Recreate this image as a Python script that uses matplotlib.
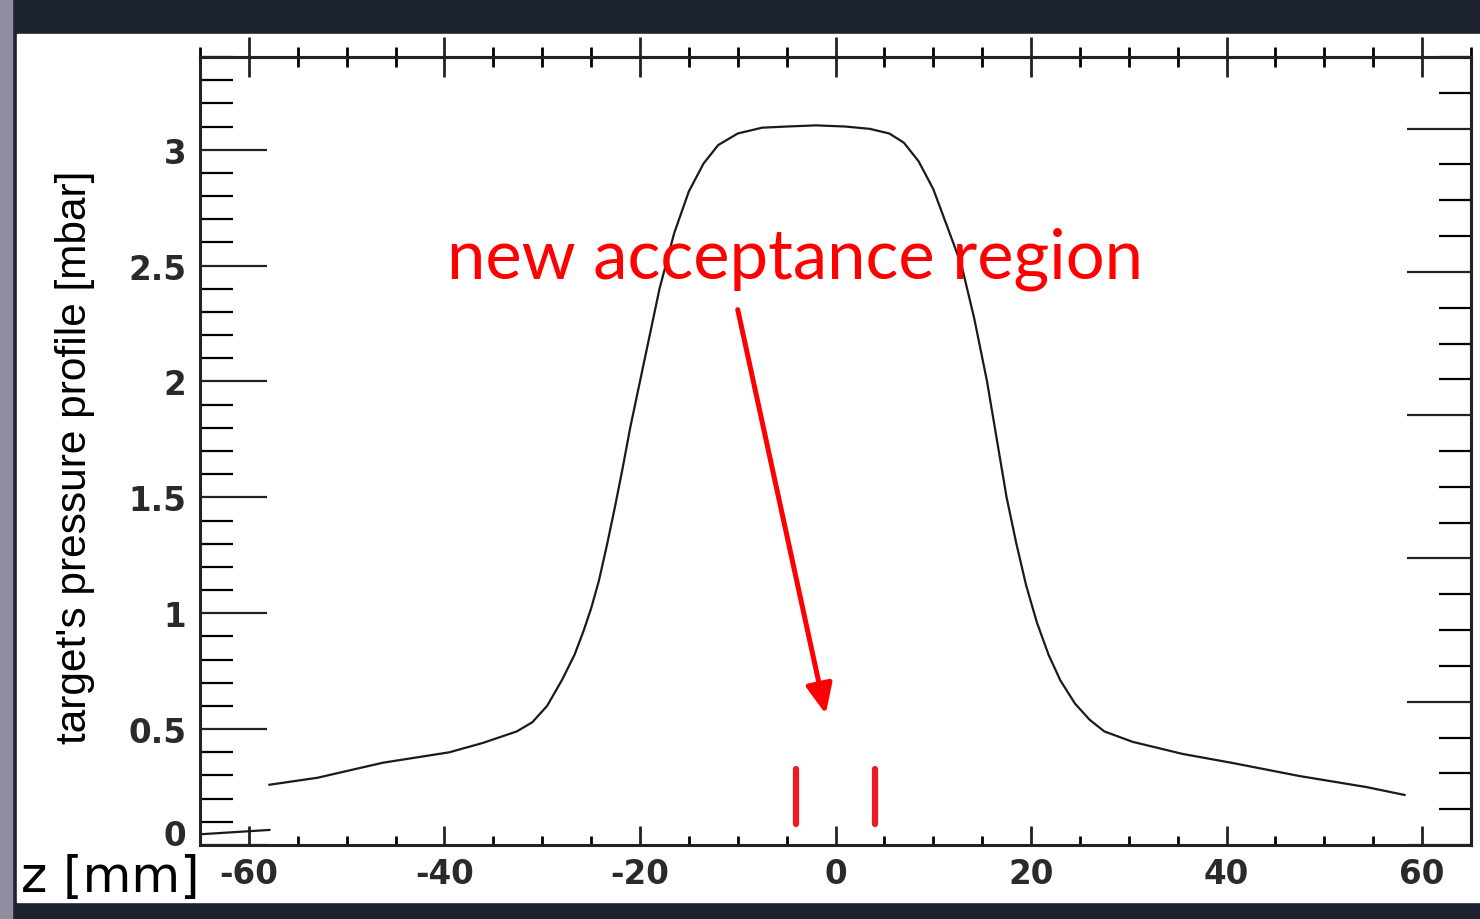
import numpy as np
import matplotlib.pyplot as plt
from matplotlib import font_manager
from matplotlib.patches import Rectangle
from matplotlib.ticker import MultipleLocator, FixedLocator, FuncFormatter

plt.rcParams['axes.unicode_minus'] = False

# pressure profile
z_mm = [-57.9, -53.0, -46.3, -39.5, -36.1, -32.6, -31.0, -29.5, -28.0, -26.7,
        -25.8, -25.0, -24.2, -23.4, -22.6, -21.8, -21.0, -20.0, -19.0, -18.0,
        -16.5, -15.0, -13.5, -12.0, -10.0, -7.5, -5.0, -2.0, 1.0, 3.5,
        5.5, 7.0, 8.5, 10.0, 11.5, 12.9, 14.2, 15.5, 16.5, 17.5,
        18.5, 19.5, 20.6, 21.8, 23.0, 24.5, 26.0, 27.5, 30.4, 35.5,
        40.6, 47.4, 54.3, 58.2]
p_mbar = [0.26, 0.29, 0.355, 0.40, 0.44, 0.49, 0.53, 0.60, 0.71, 0.82,
          0.92, 1.02, 1.14, 1.29, 1.45, 1.62, 1.80, 2.00, 2.20, 2.40,
          2.64, 2.82, 2.94, 3.02, 3.07, 3.095, 3.10, 3.105, 3.10, 3.09,
          3.07, 3.03, 2.95, 2.83, 2.66, 2.50, 2.27, 2.00, 1.75, 1.50,
          1.30, 1.12, 0.96, 0.82, 0.71, 0.61, 0.54, 0.49, 0.445, 0.393,
          0.354, 0.298, 0.25, 0.216]
# short stray segment at lower left
stub_z = [-64.7, -57.9]
stub_p = [0.047, 0.065]

# acceptance region edges and annotation
accept_z = [-4.0, 4.0]
accept_p = [0.09, 0.33]
label = "new acceptance region"
arrow_from = (-10.0, 2.31)
arrow_to = (-1.0, 0.565)

x_ticks = [-60, -40, -20, 0, 20, 40, 60]
y_ticks = [0, 0.5, 1, 1.5, 2, 2.5, 3]

fig = plt.figure(figsize=(14.8, 9.2), dpi=100, facecolor='#1d2231')
fig.patches.append(Rectangle((0, 0), 12 / 1480, 1, transform=fig.transFigure,
                             color='#8e8c9e', zorder=-10))
fig.patches.append(Rectangle((17 / 1480, 17 / 920), 1 - 17 / 1480, (903 - 35) / 920,
                             transform=fig.transFigure, color='white', zorder=-10))

ax = fig.add_axes([200 / 1480, 74 / 920, 1271 / 1480, 788 / 920])
ax.set_zorder(1)
ax.patch.set_alpha(0)
ax.set_xlim(-65, 65)
ax.set_ylim(0, 3.4)

ax.plot(z_mm, p_mbar, color='#1a1a1a', lw=1.6)
ax.plot(stub_z, stub_p, color='#1a1a1a', lw=1.6)
for z in accept_z:
    ax.plot([z, z], accept_p, color='#ed1c24', lw=4.5, solid_capstyle='round')

ax.text(-39.7, 2.45, label, color='red', fontsize=49.5, family=['Lato', 'DejaVu Sans'],
        ha='left', va='baseline')
ax.annotate('', xy=arrow_to, xytext=arrow_from,
            arrowprops=dict(arrowstyle='-|>,head_length=0.45,head_width=0.2',
                            color='red', lw=3.6, mutation_scale=40,
                            shrinkA=0, shrinkB=0))

for s in ax.spines.values():
    s.set_linewidth(2.2)
    s.set_color('#222222')

tick_font = dict(family='DejaVu Sans', weight='bold', size=23.5)
ax.xaxis.set_major_locator(FixedLocator(x_ticks))
ax.xaxis.set_minor_locator(MultipleLocator(5))
ax.yaxis.set_major_locator(FixedLocator(y_ticks))
ax.yaxis.set_minor_locator(MultipleLocator(0.1))
ax.yaxis.set_major_formatter(FuncFormatter(lambda v, _: f'{v:g}'))
ax.tick_params(axis='x', which='major', direction='in', length=14, width=2, pad=9,
               colors='#222222', top=False)
ax.tick_params(axis='x', which='minor', direction='in', length=6.5, width=2, top=False)
ax.tick_params(axis='y', which='major', direction='in', length=48, width=1.6, pad=10,
               colors='#222222', right=False)
ax.tick_params(axis='y', which='minor', direction='in', length=24, width=1.6, right=False)
for lab in ax.get_xticklabels() + ax.get_yticklabels():
    lab.set_fontproperties(font_manager.FontProperties(**tick_font))
    lab.set_color('#2a2a2a')
# the bottom "0" sits a little above its tick, as in the original
ax.get_yticklabels()[0].set_verticalalignment('baseline')

# top axis: ticks through the frame, no labels
top = ax.secondary_xaxis('top')
top.xaxis.set_major_locator(FixedLocator(x_ticks))
top.xaxis.set_minor_locator(MultipleLocator(5))
top.tick_params(which='major', direction='inout', length=29, width=2, labeltop=False,
                colors='#222222')
top.tick_params(which='minor', direction='inout', length=15, width=2)
top.spines['top'].set_linewidth(2.2)

# right axis: separate scale, no labels
k = 5.5 / 3.4
right = ax.secondary_yaxis('right', functions=(lambda y: y * k, lambda y: y / k))
right.yaxis.set_major_locator(MultipleLocator(1))
right.yaxis.set_minor_locator(MultipleLocator(0.25))
right.tick_params(which='major', direction='in', length=46, width=1.6, labelright=False,
                  colors='#222222')
right.tick_params(which='minor', direction='in', length=23, width=1.6)
right.spines['right'].set_linewidth(2.2)

# axis titles
names = {f.name for f in font_manager.fontManager.ttflist}
if 'Liberation Sans Narrow' in names:
    fig.text(75 / 1480, 1 - 457 / 920, "target's pressure profile [mbar]",
             family='Liberation Sans Narrow', size=37, rotation=90,
             ha='center', va='center', color='black')
else:
    fig.text(75 / 1480, 1 - 457 / 920, "target's pressure profile [mbar]",
             family='Liberation Sans', size=30.5, rotation=90,
             ha='center', va='center', color='black')
fig.text(21 / 1480, 1 - 892 / 920, 'z [mm]', family='DejaVu Sans', size=36,
         ha='left', va='baseline', color='black')

fig.savefig('out.png', dpi=100, facecolor=fig.get_facecolor())
